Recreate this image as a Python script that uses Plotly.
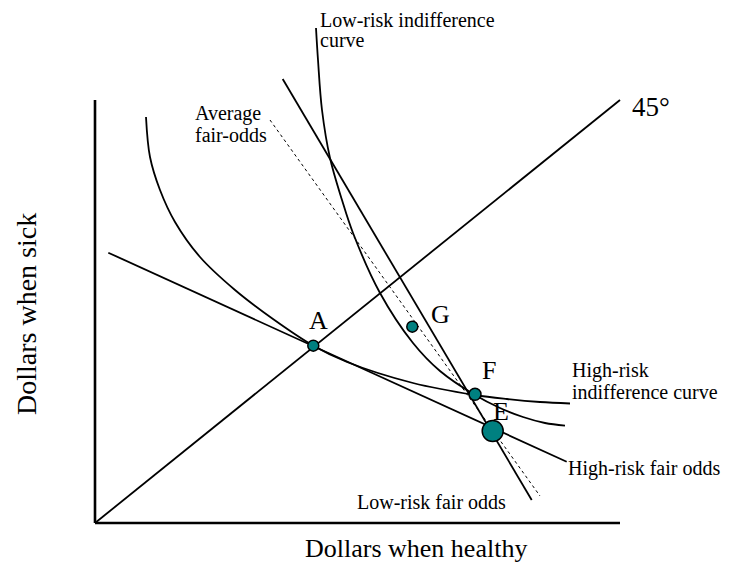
import plotly.graph_objects as go

# Coordinates are measured from the corner of the axes (origin), in chart units
# x = dollars when healthy, y = dollars when sick
# 45-degree (certainty) line
line45_x = [0, 525]
line45_y = [0, 423]

# High-risk fair-odds line
hr_odds_x = [13.3, 471.7]
hr_odds_y = [270.3, 61.3]

# Low-risk fair-odds line
lr_odds_x = [187.7, 436.7]
lr_odds_y = [444, 23]

# Average fair-odds line (dotted)
avg_odds_x = [175, 445]
avg_odds_y = [403, 27]

# High-risk indifference curve (through A and F)
hr_ic_x = [51, 55, 65, 80, 105, 140, 178, 218.3, 252, 318, 380, 412, 445, 475]
hr_ic_y = [406, 366, 333, 301, 266, 233, 204, 177.3, 161, 140, 128, 124, 121, 119.5]

# Low-risk indifference curve (through F)
lr_ic_x = [221, 223, 227, 235, 247, 258, 285, 318, 345, 380, 405, 428, 450, 470]
lr_ic_y = [495, 463, 413, 365, 323, 290, 230, 180, 152, 128, 115, 106, 100, 97.3]

# Points
pt_names = ["A", "G", "F", "E"]
pt_x = [218.3, 317.3, 380, 397.7]
pt_y = [177.3, 196.3, 128.7, 92]
pt_size = [11, 11, 12, 21]

# Axis extents
x_axis_end = 525
y_axis_end = 423

INK = "black"
TEAL = "#008080"
FONT = "Liberation Serif, Times New Roman, serif"

fig = go.Figure()

# axes drawn as lines
fig.add_trace(go.Scatter(x=[0, x_axis_end], y=[0, 0], mode="lines",
                         line=dict(color=INK, width=2.6), hoverinfo="skip"))
fig.add_trace(go.Scatter(x=[0, 0], y=[0, y_axis_end], mode="lines",
                         line=dict(color=INK, width=2.6), hoverinfo="skip"))

fig.add_trace(go.Scatter(x=line45_x, y=line45_y, mode="lines",
                         line=dict(color=INK, width=1.8)))
fig.add_trace(go.Scatter(x=hr_odds_x, y=hr_odds_y, mode="lines",
                         line=dict(color=INK, width=1.8)))
fig.add_trace(go.Scatter(x=lr_odds_x, y=lr_odds_y, mode="lines",
                         line=dict(color=INK, width=1.8)))
fig.add_trace(go.Scatter(x=avg_odds_x, y=avg_odds_y, mode="lines",
                         line=dict(color=INK, width=1, dash="dot")))
fig.add_trace(go.Scatter(x=hr_ic_x, y=hr_ic_y, mode="lines",
                         line=dict(color=INK, width=1.8, shape="spline", smoothing=1)))
fig.add_trace(go.Scatter(x=lr_ic_x, y=lr_ic_y, mode="lines",
                         line=dict(color=INK, width=1.8, shape="spline", smoothing=1)))

fig.add_trace(go.Scatter(x=pt_x, y=pt_y, mode="markers",
                         marker=dict(color=TEAL, size=pt_size, opacity=1,
                                     line=dict(color=INK, width=1.5))))

# text labels: (text, x, y, size, xanchor)
labels = [
    ("A", 223, 203, 26, "center"),
    ("G", 345.5, 209, 26, "center"),
    ("F", 394, 153, 26, "center"),
    ("E", 406, 112, 26, "center"),
    ("45°", 556, 416, 27, "center"),
    ("Low-risk indifference", 225, 503.5, 20, "left"),
    ("curve", 225, 483.5, 20, "left"),
    ("Average", 100, 409.3, 20, "left"),
    ("fair-odds", 100, 387.6, 20, "left"),
    ("High-risk", 476.7, 152.6, 20, "left"),
    ("indifference curve", 476.7, 131, 20, "left"),
    ("High-risk fair odds", 473.3, 54.3, 20, "left"),
    ("Low-risk fair odds", 261.8, 20.7, 20, "left"),
    ("Dollars when healthy", 321, -25.6, 26, "center"),
]
for t, x, y, s, xa in labels:
    fig.add_annotation(x=x, y=y, text=t, showarrow=False, xanchor=xa, yanchor="middle",
                       font=dict(family=FONT, size=s, color=INK),
                       borderpad=0, borderwidth=0)

fig.add_annotation(x=-69, y=209, text="Dollars when sick", showarrow=False, textangle=-90,
                   xanchor="center", yanchor="middle",
                   font=dict(family=FONT, size=28, color=INK), borderpad=0, borderwidth=0)

# the page body has an 8px margin, so the figure is 8px smaller and the ranges shifted
fig.update_layout(
    width=721, height=565,
    margin=dict(l=0, r=0, t=0, b=0),
    paper_bgcolor="white", plot_bgcolor="white",
    showlegend=False,
    xaxis=dict(range=[-87, 634], visible=False, fixedrange=True),
    yaxis=dict(range=[-50, 515], visible=False, fixedrange=True),
)

fig.write_html("out.html")
